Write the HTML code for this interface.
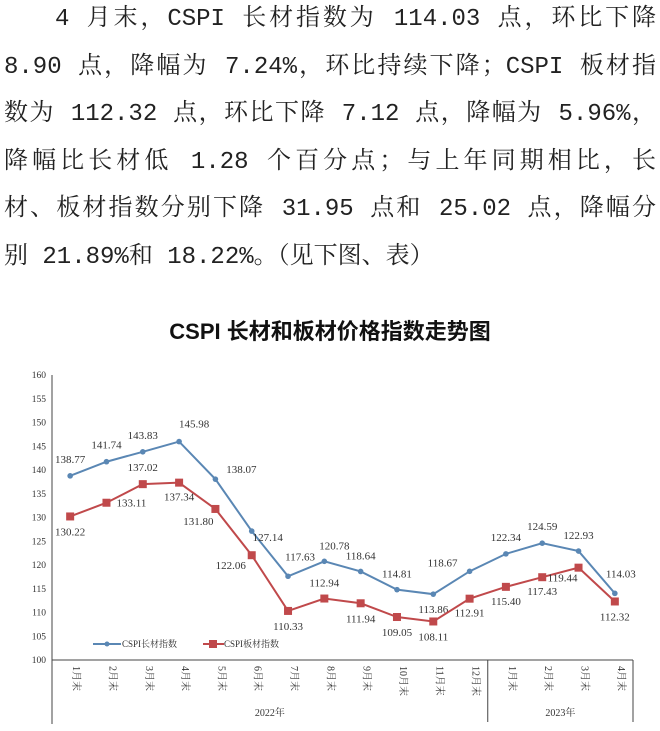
<!DOCTYPE html>
<html><head><meta charset="utf-8"><style>
body{margin:0;background:#fff;width:660px;height:731px;overflow:hidden;position:relative}
.para{position:absolute;left:4px;top:-4px;width:652px;font-family:"Liberation Mono","Noto Serif CJK SC",serif;font-size:24px;line-height:47.5px;color:#222}
.para div{text-align:justify;text-align-last:justify;white-space:nowrap}
.para div.last{text-align-last:left}
.title{position:absolute;top:314px;left:0;width:660px;text-align:center;font-family:"Liberation Sans","Noto Sans CJK SC",sans-serif;font-weight:bold;font-size:22px;color:#111}
svg{position:absolute;left:0;top:0}
svg text{font-family:"Liberation Serif","Noto Serif CJK SC",serif;fill:#333}
</style></head><body>
<div class="para">
<div style="padding-left:51px;white-space:normal">4 月末，CSPI 长材指数为 114.03 点，环比下降</div>
<div style="white-space:normal">8.90 点，降幅为 7.24%，环比持续下降；CSPI 板材指</div>
<div style="white-space:normal">数为 112.32 点，环比下降 7.12 点，降幅为 5.96%，</div>
<div style="white-space:normal">降幅比长材低 1.28 个百分点；与上年同期相比，长</div>
<div style="white-space:normal">材、板材指数分别下降 31.95 点和 25.02 点，降幅分</div>
<div class="last">别 21.89%和 18.22%。（见下图、表）</div>
</div>
<div class="title">CSPI 长材和板材价格指数走势图</div>
<svg id="chart" width="660" height="731"></svg>
<script>
const categories=["1月末","2月末","3月末","4月末","5月末","6月末","7月末","8月末","9月末","10月末","11月末","12月末","1月末","2月末","3月末","4月末"];
const years=["2022年","2023年"];
const yearCounts=[12,4];
const longValues=[138.77,141.74,143.83,145.98,138.07,127.14,117.63,120.78,118.64,114.81,113.86,118.67,122.34,124.59,122.93,114.03];
const plateValues=[130.22,133.11,137.02,137.34,131.80,122.06,110.33,112.94,111.94,109.05,108.11,112.91,115.40,117.43,119.44,112.32];
const yTicks=[100,105,110,115,120,125,130,135,140,145,150,155,160];
const longLabelOff=[[0,-13],[0,-13],[0,-13],[15,-14],[26,-6],[16,10],[12,-16],[10,-12],[0,-12],[0,-12],[0,19],[-27,-5],[0,-13],[0,-13],[0,-12],[6,-16]];
const plateLabelOff=[[0,19],[25,4],[0,-13],[0,18],[-17,16],[-21,14],[0,19],[0,-12],[0,19],[0,19],[0,19],[0,18],[0,18],[0,18],[-16,14],[0,19]];
const X0=52,X1=633,Y0=660,Y1=375,YMIN=100,YMAX=160;
const bw=(X1-X0)/categories.length;
const x=i=>X0+bw*(i+0.5);
const y=v=>Y0-(v-YMIN)/(YMAX-YMIN)*(Y0-Y1);
const svg=document.getElementById('chart');const NS="http://www.w3.org/2000/svg";
function mk(t,a,p){const e=document.createElementNS(NS,t);for(const k in a)e.setAttribute(k,a[k]);(p||svg).appendChild(e);return e;}
let e;
e=mk('line',{x1:X0,y1:Y1,x2:X0,y2:724,stroke:'#444','stroke-width':1});


e=mk('line',{x1:X0,y1:Y0,x2:X1,y2:Y0,stroke:'#444','stroke-width':1});


yTicks.forEach(t=>{e=mk('text',{x:46,y:y(t)+3,'text-anchor':'end','font-size':9.5});e.textContent=t;

});
categories.forEach((c,i)=>{e=mk('text',{transform:`translate(${x(i)+3},${Y0+6}) rotate(90)`,'font-size':10});e.textContent=c;

});
let start=0;
years.forEach((yr,j)=>{const end=start+yearCounts[j];const xe=X0+bw*end;
e=mk('line',{x1:xe,y1:Y0,x2:xe,y2:722,stroke:'#444','stroke-width':1});


e=mk('text',{x:(X0+bw*start+xe)/2,y:716,'text-anchor':'middle','font-size':10});e.textContent=yr;


start=end;});
function series(vals,color,name,square,offs){
 e=mk('polyline',{points:vals.map((v,i)=>x(i)+','+y(v)).join(' '),fill:'none',stroke:color,'stroke-width':2});
 
 
 vals.forEach((v,i)=>{
  if(square){e=mk('rect',{x:x(i)-4,y:y(v)-4,width:8,height:8,fill:color});}
  else{e=mk('circle',{cx:x(i),cy:y(v),r:2.8,fill:color});}
  
  
  e=mk('text',{x:x(i)+offs[i][0],y:y(v)+offs[i][1],'text-anchor':'middle','font-size':11});e.textContent=v.toFixed(2);
  
  
 });
}
series(longValues,'#5a87b4','long-index',false,longLabelOff);
series(plateValues,'#c0494b','plate-index',true,plateLabelOff);
e=mk('line',{x1:93,y1:644,x2:121,y2:644,stroke:'#5a87b4','stroke-width':2});


e=mk('circle',{cx:107,cy:644,r:2.5,fill:'#5a87b4'});


e=mk('text',{x:122,y:647,'font-size':9});e.textContent='CSPI长材指数';


e=mk('line',{x1:203,y1:644,x2:224,y2:644,stroke:'#c0494b','stroke-width':2});


e=mk('rect',{x:209,y:640,width:8,height:8,fill:'#c0494b'});


e=mk('text',{x:224,y:647,'font-size':9});e.textContent='CSPI板材指数';


</script>
</body></html>
